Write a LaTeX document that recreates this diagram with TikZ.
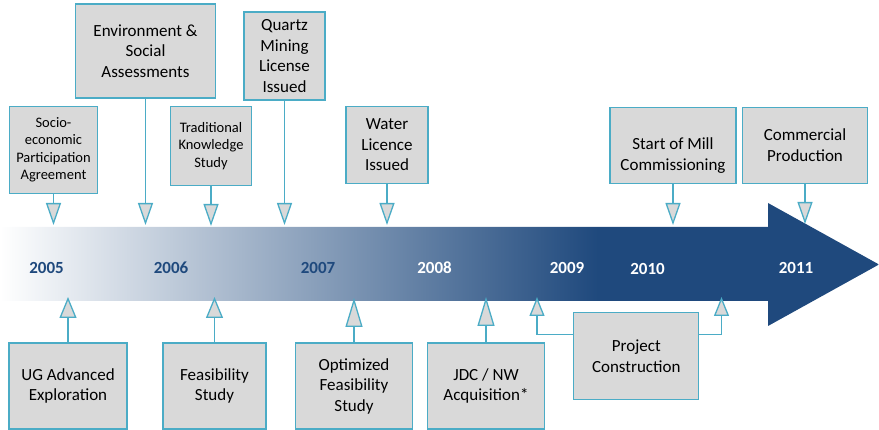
\documentclass[tikz,border=0pt]{standalone}
\usepackage{fontspec}
\setmainfont{Carlito}
\usetikzlibrary{arrows.meta}
\definecolor{boxfill}{RGB}{217,217,217}
\definecolor{boxline}{RGB}{75,172,198}
\definecolor{arrowblue}{RGB}{31,73,125}
\pgfdeclarehorizontalshading{timeline}{100bp}{color(0bp)=(white); color(25bp)=(white); color(59bp)=(arrowblue); color(100bp)=(arrowblue)}
\pgfdeclarelayer{backlayer}
\pgfdeclarelayer{edgelayer}
\pgfdeclarelayer{nodelayer}
\pgfsetlayers{backlayer,edgelayer,nodelayer,main}
\tikzstyle{milestone}=[rectangle,fill=boxfill,draw=boxline,line width=1.3pt,align=center,inner sep=2pt,font=\fontsize{17}{20.5}\selectfont]
\tikzstyle{smalltext}=[font=\fontsize{14.5}{17.5}\selectfont]
\tikzstyle{year}=[inner sep=0pt,font=\bfseries\fontsize{17}{20}\selectfont,text=arrowblue]
\tikzstyle{link}=[-{Triangle[width=15pt,length=22pt,fill=boxfill]},draw=boxline,line width=1.3pt]
\tikzstyle{uplink}=[-{Triangle[width=17pt,length=21pt,fill=boxfill]},draw=boxline,line width=1.3pt]

\begin{document}
\begin{tikzpicture}[x=1pt,y=-1pt]
	\useasboundingbox (0,0) rectangle (879,430);
	\begin{pgfonlayer}{backlayer}
		\shade [shading=timeline] (0,227) -- (768,227) -- (768,203) -- (879,264.5) -- (768,326) -- (768,301) -- (0,301) -- cycle;
	\end{pgfonlayer}
	\begin{pgfonlayer}{nodelayer}
		% milestones above the timeline
		\node [milestone, smalltext, minimum width=88pt, minimum height=87pt] (0) at (53.5,150) {Socio-\\economic\\Participation\\Agreement};
		\node [milestone, minimum width=140pt, minimum height=94pt] (1) at (145.5,51) {Environment \&\\Social\\Assessments};
		\node [milestone, smalltext, minimum width=81pt, minimum height=79pt] (2) at (211,146) {Traditional\\Knowledge\\Study};
		\node [milestone, minimum width=81pt, minimum height=88pt] (3) at (284.5,56) {Quartz\\Mining\\License\\Issued};
		\node [milestone, minimum width=82pt, minimum height=77pt] (4) at (387,145) {Water\\Licence\\Issued};
		\node [milestone, minimum width=126pt, minimum height=76pt, label={[align=center,font=\fontsize{17}{20.5}\selectfont,yshift=-10.5pt]center:Start of Mill\\Commissioning}] (5) at (673,145.3) {};
		\node [milestone, minimum width=125pt, minimum height=76pt] (6) at (805,145.3) {Commercial\\Production};
		% milestones below the timeline
		\node [milestone, minimum width=118pt, minimum height=86pt] (7) at (68,386) {UG Advanced\\Exploration};
		\node [milestone, minimum width=103pt, minimum height=86pt] (8) at (214.5,386) {Feasibility\\Study};
		\node [milestone, minimum width=117pt, minimum height=86pt] (9) at (354,386) {Optimized\\Feasibility\\Study};
		\node [milestone, minimum width=117pt, minimum height=86pt] (10) at (486,386) {JDC / NW\\Acquisition*};
		\node [milestone, minimum width=125pt, minimum height=87pt] (11) at (636.3,356.3) {Project\\Construction};
		% years
		\node [year] (12) at (46.5,268) {2005};
		\node [year] (13) at (171,268) {2006};
		\node [year] (14) at (318,268) {2007};
		\node [year, text=white] (15) at (434.5,268) {2008};
		\node [year, text=white] (16) at (567,268) {2009};
		\node [year, text=white] (17) at (647.5,269) {2010};
		\node [year, text=white] (18) at (796,268) {2011};
		% ends on the timeline
		\coordinate (19) at (53.5,225);
		\coordinate (20) at (145.5,225);
		\coordinate (21) at (211,226);
		\coordinate (22) at (284.5,225);
		\coordinate (23) at (387,225);
		\coordinate (24) at (673,225);
		\coordinate (25) at (805,224);
		\coordinate (26) at (68,297);
		\coordinate (27) at (214.5,297);
		\coordinate (28) at (354,298);
		\coordinate (29) at (486,297);
		\coordinate (30) at (537,297);
		\coordinate (31) at (721.5,297);
	\end{pgfonlayer}
	\begin{pgfonlayer}{edgelayer}
		\draw [style=link] (0) to (19);
		\draw [style=link] (1) to (20);
		\draw [style=link] (2) to (21);
		\draw [style=link] (3) to (22);
		\draw [style=link] (4) to (23);
		\draw [style=link] (5) to (24);
		\draw [style=link] (6) to (25);
		\draw [style=uplink] (7) to (26);
		\draw [style=uplink] (8) to (27);
		\draw [style=uplink, -{Triangle[width=17pt,length=29pt,fill=boxfill]}] (9) to (28);
		\draw [style=uplink, -{Triangle[width=17pt,length=29pt,fill=boxfill]}] (10) to (29);
		\draw [style=uplink, -{Triangle[width=15pt,length=19pt,fill=boxfill]}] ([yshift=22pt]11.west) -| (30);
		\draw [style=uplink, -{Triangle[width=15pt,length=19pt,fill=boxfill]}] ([yshift=22pt]11.east) -| (31);
	\end{pgfonlayer}
\end{tikzpicture}
\end{document}
